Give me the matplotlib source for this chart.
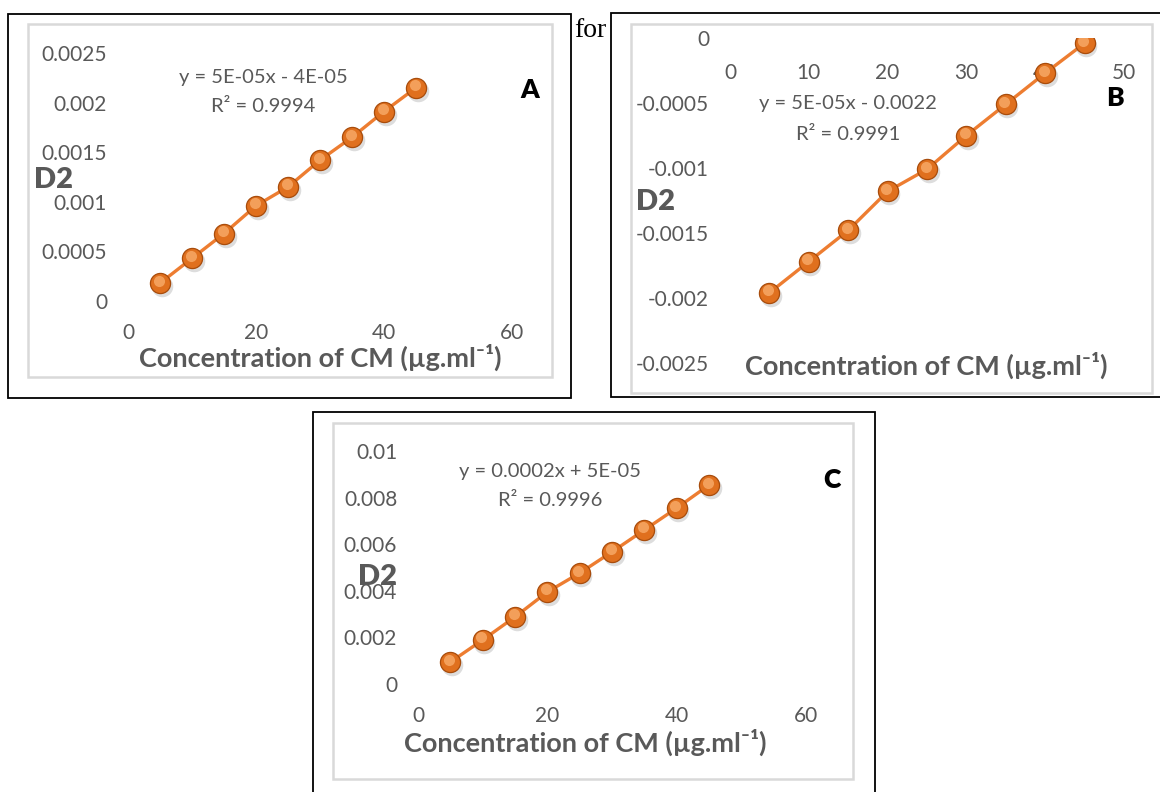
import matplotlib
matplotlib.use("Agg")
import matplotlib.pyplot as plt
from matplotlib.patches import Rectangle
from matplotlib.transforms import offset_copy

# ---------------- data ----------------
conc = [5, 10, 15, 20, 25, 30, 35, 40, 45]

d2_A = [0.00018, 0.00043, 0.00068, 0.00096, 0.00115, 0.00142, 0.00165, 0.00191, 0.00215]
d2_B = [-0.00196, -0.00172, -0.00148, -0.00118, -0.00101, -0.00075, -0.00051, -0.00027, -0.00004]
d2_C = [0.00094, 0.00189, 0.00288, 0.00395, 0.00476, 0.00567, 0.00661, 0.00755, 0.00854]

xticks_A = [0, 20, 40, 60]
yticks_A = [0, 0.0005, 0.001, 0.0015, 0.002, 0.0025]
ylabels_A = ["0", "0.0005", "0.001", "0.0015", "0.002", "0.0025"]

xticks_B = [0, 10, 20, 30, 40, 50]
yticks_B = [0, -0.0005, -0.001, -0.0015, -0.002, -0.0025]
ylabels_B = ["0", "-0.0005", "-0.001", "-0.0015", "-0.002", "-0.0025"]

xticks_C = [0, 20, 40, 60]
yticks_C = [0, 0.002, 0.004, 0.006, 0.008, 0.01]
ylabels_C = ["0", "0.002", "0.004", "0.006", "0.008", "0.01"]

eq_A = ["y = 5E-05x - 4E-05", "R² = 0.9994"]
eq_B = ["y = 5E-05x - 0.0022", "R² = 0.9991"]
eq_C = ["y = 0.0002x + 5E-05", "R² = 0.9996"]

xlabel = "Concentration of CM (µg.ml⁻¹)"
ylabel = "D2"

# ---------------- layout helpers ----------------
W, H = 1160, 792
fig = plt.figure(figsize=(W / 100, H / 100), dpi=100)
fig.patch.set_facecolor("white")

FONT = ["Lato", "DejaVu Sans"]
GREY = "#595959"
ORANGE = "#ED7D31"


def fx(x):
    return x / W


def fy(y):
    return 1 - y / H


def frame(x0, y0, x1, y1, ix0, iy0, ix1, iy1):
    outer = Rectangle((fx(x0), fy(y1)), fx(x1) - fx(x0), fy(y0) - fy(y1),
                      transform=fig.transFigure, facecolor="white",
                      edgecolor="black", lw=1.3, zorder=1)
    fig.add_artist(outer)
    inner = Rectangle((fx(ix0), fy(iy1)), fx(ix1) - fx(ix0), fy(iy0) - fy(iy1),
                      transform=fig.transFigure, facecolor="none",
                      edgecolor="#D9D9D9", lw=1.8, zorder=2)
    fig.add_artist(inner)


def make_axes(px0, px1, py_bottom, py_top):
    ax = fig.add_axes([fx(px0), fy(py_bottom), fx(px1) - fx(px0), fy(py_top) - fy(py_bottom)])
    ax.set_facecolor("none")
    ax.set_zorder(5)
    for s in ax.spines.values():
        s.set_color("none")
    ax.tick_params(length=0, labelsize=15, labelcolor=GREY, pad=15)
    return ax


def draw_series(ax, x, y):
    ax.plot(x, y, color=ORANGE, lw=2.4, zorder=3, solid_capstyle="round")
    shadow = offset_copy(ax.transData, fig=fig, x=1.5, y=-3, units="dots")
    ax.plot(x, y, ls="none", marker="o", ms=15.5, color="#9E9E9E", alpha=0.35,
            mec="none", transform=shadow, zorder=3.5)
    ax.plot(x, y, ls="none", marker="o", ms=14.5, mfc="#E0701E", mec="#A84C0C",
            mew=0.9, zorder=4)
    hl = offset_copy(ax.transData, fig=fig, x=-1.5, y=2.5, units="dots")
    ax.plot(x, y, ls="none", marker="o", ms=8, mfc="#F7A865", mec="none",
            alpha=0.85, transform=hl, zorder=4.5)


def set_ticks(ax, xt, yt, yl):
    ax.set_xticks(xt, [str(v) for v in xt], family=FONT)
    ax.set_yticks(yt, yl, family=FONT)


def txt(x, y, s, **kw):
    kw.setdefault("family", FONT)
    fig.text(fx(x), fy(y), s, **kw)


# ---------------- panel frames ----------------
frame(8, 14, 571, 398, 28, 24, 552, 377)
frame(611, 13, 1165, 397, 631, 24, 1152, 393)
frame(313, 412, 875, 800, 333, 423, 853, 779)

txt(574, 37, "for", family=["Liberation Serif", "DejaVu Serif"], fontsize=20,
    color="black", va="baseline", ha="left")

# ---------------- Panel A ----------------
axA = make_axes(128, 512, 301, 53)
axA.set_xlim(0, 60)
axA.set_ylim(0, 0.0025)
set_ticks(axA, xticks_A, yticks_A, ylabels_A)
axA.tick_params(axis="x", pad=16)
draw_series(axA, conc, d2_A)
txt(263, 78, eq_A[0], fontsize=14.5, color=GREY, ha="center", va="center")
txt(263, 106, eq_A[1], fontsize=14.5, color=GREY, ha="center", va="center")
txt(530, 90, "A", fontsize=19, weight="heavy", color="black", ha="center", va="center")
txt(320, 357, xlabel, fontsize=19.5, weight="bold", color=GREY, ha="center", va="center")
txt(54, 180, ylabel, fontsize=21, weight="heavy", color=GREY, ha="center", va="center")

# ---------------- Panel B ----------------
axB = make_axes(730, 1124, 363, 38)
axB.set_xlim(0, 50)
axB.set_ylim(-0.0025, 0)
axB.spines["bottom"].set_position(("data", 0))
set_ticks(axB, xticks_B, yticks_B, ylabels_B)
axB.tick_params(axis="x", pad=18)
draw_series(axB, conc, d2_B)
txt(848, 104, eq_B[0], fontsize=14.5, color=GREY, ha="center", va="center")
txt(848, 135, eq_B[1], fontsize=14.5, color=GREY, ha="center", va="center")
txt(1115, 98, "B", fontsize=19, weight="heavy", color="black", ha="center", va="center")
txt(926, 365, xlabel, fontsize=19.5, weight="bold", color=GREY, ha="center", va="center")
txt(655, 202, ylabel, fontsize=21, weight="heavy", color=GREY, ha="center", va="center")

# ---------------- Panel C ----------------
axC = make_axes(418, 806, 684, 451)
axC.set_xlim(0, 60)
axC.set_ylim(0, 0.01)
set_ticks(axC, xticks_C, yticks_C, ylabels_C)
axC.tick_params(axis="x", pad=16)
draw_series(axC, conc, d2_C)
txt(550, 472, eq_C[0], fontsize=14.5, color=GREY, ha="center", va="center")
txt(550, 501, eq_C[1], fontsize=14.5, color=GREY, ha="center", va="center")
txt(832, 480, "C", fontsize=19, weight="heavy", color="black", ha="center", va="center")
txt(585, 742, xlabel, fontsize=19.5, weight="bold", color=GREY, ha="center", va="center")
txt(378, 577, ylabel, fontsize=21, weight="heavy", color=GREY, ha="center", va="center")

fig.savefig("out.png", dpi=100, facecolor="white")
